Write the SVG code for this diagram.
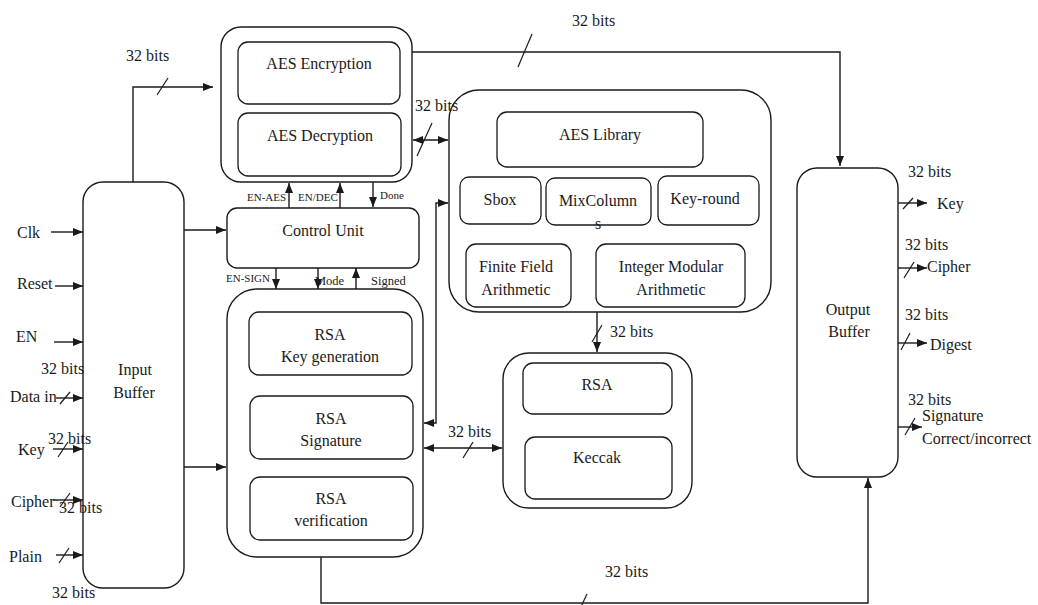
<svg xmlns="http://www.w3.org/2000/svg" width="1038" height="605" viewBox="0 0 1038 605" font-family="'Liberation Serif', 'Times New Roman', serif">
  <style>
    .box { fill: #ffffff; stroke: #1a1a1a; stroke-width: 1.4; }
    .inner { fill: #ffffff; stroke: #1a1a1a; stroke-width: 1.3; }
    .wire { fill: none; stroke: #1a1a1a; stroke-width: 1.4; }
    .tick { fill: none; stroke: #1a1a1a; stroke-width: 1.2; }
    text { font-family: 'Liberation Serif', 'Times New Roman', serif; fill: #1a1a1a; font-size: 16px; }
    .c { text-anchor: middle; }
    .sm { font-size: 11px; }
    .md { font-size: 12.5px; }
  </style>
  <defs>
    <marker id="arr" markerUnits="userSpaceOnUse" markerWidth="10" markerHeight="8" refX="10" refY="4" orient="auto-start-reverse">
      <path d="M0,0 L10,4 L0,8 z" fill="#1a1a1a"/>
    </marker>
  </defs>
  <rect width="1038" height="605" fill="#ffffff"/>

  <!-- Input Buffer -->
  <g id="input-buffer">
    <rect class="box" x="83" y="182" width="101" height="406" rx="20"/>
    <text class="c" x="135" y="375">Input</text>
    <text class="c" x="134" y="398">Buffer</text>
  </g>

  <!-- AES cipher block -->
  <g id="aes-core">
    <rect class="box" x="221" y="27" width="191" height="155" rx="20"/>
    <rect class="inner" x="238" y="42" width="162" height="62" rx="10"/>
    <text class="c" x="319" y="69">AES Encryption</text>
    <rect class="inner" x="238" y="113" width="163" height="63" rx="10"/>
    <text class="c" x="320" y="141">AES Decryption</text>
  </g>

  <!-- Control Unit -->
  <g id="control-unit">
    <rect class="box" x="227" y="208" width="192" height="60" rx="10"/>
    <text class="c" x="323" y="236">Control Unit</text>
  </g>

  <!-- RSA block -->
  <g id="rsa-core">
    <rect class="box" x="227" y="289" width="196" height="268" rx="30"/>
    <rect class="inner" x="249" y="312" width="163" height="63" rx="10"/>
    <text class="c" x="330" y="340">RSA</text>
    <text class="c" x="330" y="362">Key generation</text>
    <rect class="inner" x="250" y="396" width="163" height="63" rx="10"/>
    <text class="c" x="331" y="424">RSA</text>
    <text class="c" x="331" y="446">Signature</text>
    <rect class="inner" x="250" y="477" width="163" height="63" rx="10"/>
    <text class="c" x="331" y="504">RSA</text>
    <text class="c" x="331" y="526">verification</text>
  </g>

  <!-- Shared library -->
  <g id="aes-library">
    <rect class="box" x="449" y="90" width="322" height="222" rx="30"/>
    <rect class="inner" x="497" y="112" width="206" height="55" rx="10"/>
    <text class="c" x="600" y="140">AES Library</text>
    <rect class="inner" x="460" y="177" width="81" height="47" rx="9"/>
    <text class="c" x="500" y="205">Sbox</text>
    <rect class="inner" x="546" y="178" width="105" height="47" rx="9"/>
    <text class="c" x="598" y="206">MixColumn</text>
    <text class="c" x="598" y="229">s</text>
    <rect class="inner" x="658" y="176" width="101" height="49" rx="9"/>
    <text class="c" x="705" y="204">Key-round</text>
    <rect class="inner" x="466" y="244" width="105" height="63" rx="10"/>
    <text class="c" x="516" y="272">Finite Field</text>
    <text class="c" x="516" y="295">Arithmetic</text>
    <rect class="inner" x="596" y="244" width="149" height="63" rx="10"/>
    <text class="c" x="671" y="272">Integer Modular</text>
    <text class="c" x="671" y="295">Arithmetic</text>
  </g>

  <!-- Hash block -->
  <g id="hash-core">
    <rect class="box" x="503" y="353" width="189" height="155" rx="26"/>
    <rect class="inner" x="523" y="363" width="149" height="51" rx="10"/>
    <text class="c" x="597" y="390">RSA</text>
    <rect class="inner" x="525" y="437" width="147" height="62" rx="10"/>
    <text class="c" x="597" y="463">Keccak</text>
  </g>

  <!-- Output Buffer -->
  <g id="output-buffer">
    <rect class="box" x="797" y="168" width="101" height="309" rx="20"/>
    <text class="c" x="848" y="315">Output</text>
    <text class="c" x="849" y="337">Buffer</text>
  </g>

  <!-- Connectors -->
  <g id="connectors">
    <!-- external inputs -->
    <line class="wire" x1="51" y1="232" x2="83" y2="232" marker-end="url(#arr)"/>
    <line class="wire" x1="55" y1="286" x2="83" y2="286" marker-end="url(#arr)"/>
    <line class="wire" x1="54" y1="342" x2="83" y2="342" marker-end="url(#arr)"/>
    <line class="wire" x1="56" y1="398" x2="83" y2="398" marker-end="url(#arr)"/>
    <line class="wire" x1="53" y1="449" x2="83" y2="449" marker-end="url(#arr)"/>
    <line class="wire" x1="53" y1="500" x2="83" y2="500" marker-end="url(#arr)"/>
    <line class="wire" x1="56" y1="555" x2="83" y2="555" marker-end="url(#arr)"/>

    <!-- input buffer to cores -->
    <polyline class="wire" points="133,182 133,87 213,87" marker-end="url(#arr)"/>
    <line class="wire" x1="184" y1="230" x2="226" y2="230" marker-end="url(#arr)"/>
    <line class="wire" x1="184" y1="467" x2="226" y2="467" marker-end="url(#arr)"/>

    <!-- AES core to output buffer -->
    <polyline class="wire" points="412,52 840,52 840,166" marker-end="url(#arr)"/>

    <!-- AES core <-> library -->
    <line class="wire" x1="413" y1="140" x2="448" y2="140" marker-start="url(#arr)" marker-end="url(#arr)"/>

    <!-- control handshake -->
    <line class="wire" x1="289" y1="208" x2="289" y2="183" marker-end="url(#arr)"/>
    <line class="wire" x1="340" y1="208" x2="340" y2="183" marker-end="url(#arr)"/>
    <line class="wire" x1="373" y1="182" x2="373" y2="207" marker-end="url(#arr)"/>
    <line class="wire" x1="276" y1="268" x2="276" y2="289" marker-end="url(#arr)"/>
    <line class="wire" x1="318" y1="268" x2="318" y2="289" marker-end="url(#arr)"/>
    <line class="wire" x1="356" y1="289" x2="356" y2="268" marker-end="url(#arr)"/>

    <!-- library <-> RSA core -->
    <polyline class="wire" points="424,423 436,423 436,203 448,203" marker-start="url(#arr)" marker-end="url(#arr)"/>

    <!-- library to hash core -->
    <line class="wire" x1="597" y1="312" x2="597" y2="352" marker-end="url(#arr)"/>

    <!-- RSA core <-> hash core -->
    <line class="wire" x1="424" y1="448" x2="502" y2="448" marker-start="url(#arr)" marker-end="url(#arr)"/>

    <!-- RSA core to output buffer -->
    <polyline class="wire" points="321,557 321,603 868,603 868,478" marker-end="url(#arr)"/>

    <!-- external outputs -->
    <line class="wire" x1="898" y1="203" x2="927" y2="203" marker-end="url(#arr)"/>
    <line class="wire" x1="898" y1="268" x2="927" y2="268" marker-end="url(#arr)"/>
    <line class="wire" x1="898" y1="343" x2="927" y2="343" marker-end="url(#arr)"/>
    <line class="wire" x1="898" y1="427" x2="922" y2="427" marker-end="url(#arr)"/>

    <!-- bus width ticks -->
    <g id="bus-ticks">
      <line class="tick" x1="60" y1="404" x2="70" y2="392"/>
      <line class="tick" x1="58" y1="457" x2="68" y2="442"/>
      <line class="tick" x1="60" y1="507" x2="70" y2="493"/>
      <line class="tick" x1="59" y1="563" x2="69" y2="548"/>
      <line class="tick" x1="157" y1="95" x2="168" y2="78"/>
      <line class="tick" x1="518" y1="67" x2="532" y2="34"/>
      <line class="tick" x1="417" y1="156" x2="432" y2="123"/>
      <line class="tick" x1="592" y1="342" x2="602" y2="325"/>
      <line class="tick" x1="463" y1="458" x2="473" y2="442"/>
      <line class="tick" x1="579" y1="611" x2="587" y2="594"/>
      <line class="tick" x1="903" y1="209" x2="913" y2="198"/>
      <line class="tick" x1="904" y1="278" x2="914" y2="262"/>
      <line class="tick" x1="901" y1="350" x2="910" y2="333"/>
      <line class="tick" x1="905" y1="435" x2="915" y2="418"/>
    </g>
  </g>

  <!-- Signal labels -->
  <g id="labels">
    <text x="17" y="238">Clk</text>
    <text x="17" y="289">Reset</text>
    <text x="16" y="342">EN</text>
    <text x="41" y="374">32 bits</text>
    <text x="10" y="402">Data in</text>
    <text x="48" y="444">32 bits</text>
    <text x="18" y="455">Key</text>
    <text x="11" y="507">Cipher</text>
    <text x="59" y="513">32 bits</text>
    <text x="9" y="562">Plain</text>
    <text x="52" y="598">32 bits</text>

    <text x="126" y="61">32 bits</text>
    <text x="572" y="26">32 bits</text>
    <text x="415" y="111">32 bits</text>
    <text x="610" y="337">32 bits</text>
    <text x="448" y="437">32 bits</text>
    <text x="605" y="577">32 bits</text>

    <text class="sm" x="247" y="201">EN-AES</text>
    <text class="sm" x="298" y="201">EN/DEC</text>
    <text class="sm" x="380" y="199">Done</text>
    <text class="sm" x="226" y="282">EN-SIGN</text>
    <text class="md" x="315" y="285">Mode</text>
    <text class="md" x="371" y="285">Signed</text>

    <text x="908" y="177">32 bits</text>
    <text x="937" y="209">Key</text>
    <text x="905" y="250">32 bits</text>
    <text x="927" y="272">Cipher</text>
    <text x="905" y="320">32 bits</text>
    <text x="930" y="350">Digest</text>
    <text x="908" y="405">32 bits</text>
    <text x="922" y="421">Signature</text>
    <text x="922" y="444">Correct/incorrect</text>
  </g>
</svg>
